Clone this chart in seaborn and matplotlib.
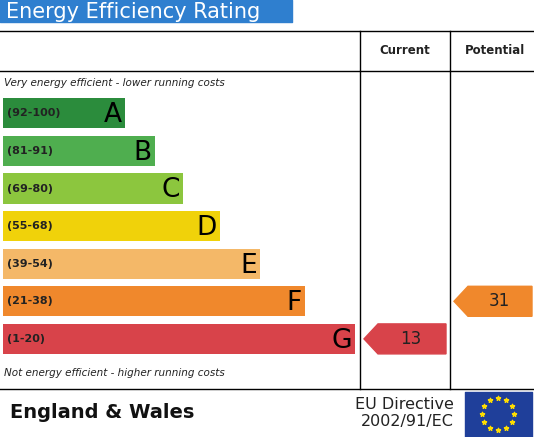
import matplotlib
matplotlib.use("Agg")
import matplotlib.pyplot as plt
import seaborn as sns
import numpy as np
import pandas as pd

bands = ["A", "B", "C", "D", "E", "F", "G"]
ranges = ["(92-100)", "(81-91)", "(69-80)", "(55-68)", "(39-54)", "(21-38)", "(1-20)"]
bar_ends = [122, 152, 180, 217, 257, 302, 352]
colors = ["#2b8c3c", "#4fae4f", "#8cc63e", "#f0d20a", "#f4b868", "#f0882c", "#d8434a"]
current_value, current_band = 13, "G"
potential_value, potential_band = 31, "F"

W, H = 534, 437
fig = plt.figure(figsize=(W/100, H/100), dpi=100)
ax = fig.add_axes([0, 0, 1, 1])
ax.set_xlim(0, W); ax.set_ylim(H, 0); ax.axis("off")

# title bar
ax.fill_between([0, 292], 0, 22, color="#2f7fcf")
ax.text(6, 12, "Energy Efficiency Rating", color="white", fontsize=15, va="center", ha="left")
# table lines
ax.plot([0, W], [31, 31], color="black", lw=1)
ax.plot([0, W], [71, 71], color="black", lw=1)
ax.plot([0, W], [389, 389], color="black", lw=1)
ax.plot([360, 360], [31, 389], color="black", lw=1)
ax.plot([450, 450], [31, 389], color="black", lw=1)
ax.text(405, 50, "Current", fontsize=8.5, fontweight="bold", ha="center", va="center", color="#222")
ax.text(495, 50, "Potential", fontsize=8.5, fontweight="bold", ha="center", va="center", color="#222")
ax.text(4, 83, "Very energy efficient - lower running costs", fontsize=7.5, style="italic", va="center", color="#222")
ax.text(4, 373, "Not energy efficient - higher running costs", fontsize=7.5, style="italic", va="center", color="#222")

# bars via seaborn
top, slot = 94.5, 37.6
bax = fig.add_axes([3/W, 1-(top+7*slot)/H, 357/W, 7*slot/H])
df = pd.DataFrame({"band": bands, "end": bar_ends})
sns.barplot(data=df, x="end", y="band", hue="band", palette=colors, orient="h",
            width=0.8, legend=False, ax=bax, saturation=1)
bax.set_xlim(0, 357); bax.axis("off")
for i, (r, e) in enumerate(zip(ranges, bar_ends)):
    bax.text(4, i, r, fontsize=8, fontweight="bold", va="center", color="#222")
    bax.text(e - 3, i + 0.05, bands[i], fontsize=19, va="center", ha="right", color="black")

def arrow(x0, x1, band, val, col):
    i = bands.index(band)
    yc = top + (i + 0.5) * slot
    h = 15
    ax.fill([x0, x0 + 14, x1, x1, x0 + 14], [yc, yc - h, yc - h, yc + h, yc + h], color=col)
    ax.text((x0 + x1) / 2 + 6, yc, str(val), fontsize=12, ha="center", va="center", color="#222")

arrow(364, 446, current_band, current_value, colors[bands.index(current_band)])
arrow(454, 532, potential_band, potential_value, colors[bands.index(potential_band)])

# footer
ax.text(10, 413, "England & Wales", fontsize=14, fontweight="bold", va="center", color="#111")
ax.text(454, 413, "EU Directive\n2002/91/EC", fontsize=11.5, va="center", ha="right", color="#222", linespacing=1.2)
ax.fill_between([465, 532], 392, 437, color="#1f3f9a")
ang = np.linspace(0, 2*np.pi, 13)[:-1]
ax.scatter(498 + 16*np.cos(ang), 414 + 16*np.sin(ang), marker="*", s=10, color="#ffdd00")

fig.savefig("out.png", dpi=100)
